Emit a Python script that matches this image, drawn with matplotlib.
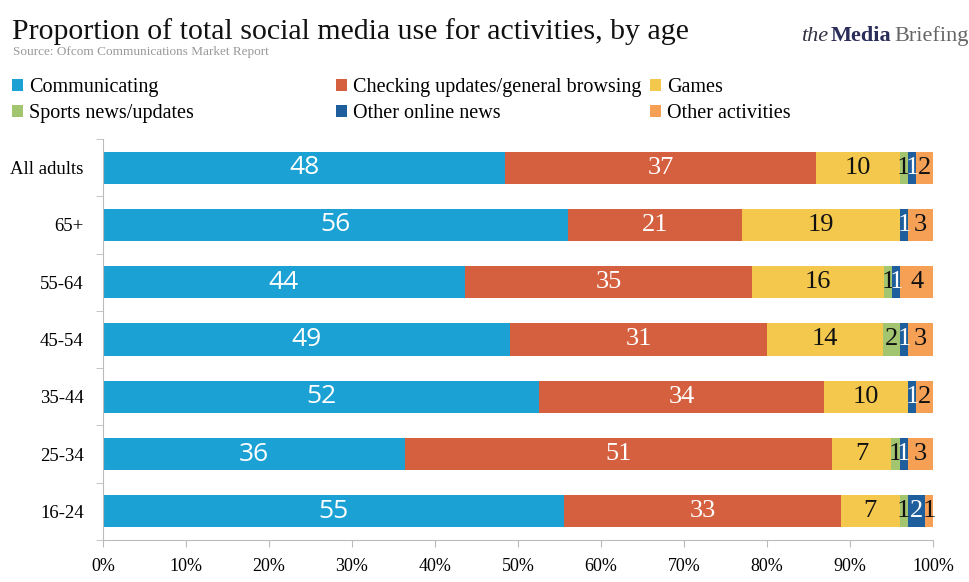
import matplotlib.pyplot as plt
import numpy as np

# data
ages = ['All adults', '65+', '55-64', '45-54', '35-44', '25-34', '16-24']
communicating = [48, 56, 44, 49, 52, 36, 55]
checking = [37, 21, 35, 31, 34, 51, 33]
games = [10, 19, 16, 14, 10, 7, 7]
sports = [1, 0, 1, 2, 0, 1, 1]
other_news = [1, 1, 1, 1, 1, 1, 2]
other_act = [2, 3, 4, 3, 2, 3, 1]

series_names = ['Communicating', 'Checking updates/general browsing', 'Games',
                'Sports news/updates', 'Other online news', 'Other activities']
colors = ['#1ba1d3', '#d5603f', '#f4c84d', '#a3c56f', '#1f5e9c', '#f6a056']
text_colors = ['white', 'white', '#111111', '#111111', 'white', '#111111']

plt.rcParams['font.family'] = ['Liberation Serif', 'DejaVu Serif']

fig = plt.figure(figsize=(9.7, 5.82), dpi=100)
ax = fig.add_axes([0.1062, 0.0722, 0.8557, 0.6890])

values = np.array([communicating, checking, games, sports, other_news, other_act], dtype=float)
# the bars are drawn as shares of each row's total, so every bar ends at 100%
shares = values / values.sum(axis=0) * 100
y = np.arange(len(ages))
left = np.zeros(len(ages))
handles = []
for i, name in enumerate(series_names):
    b = ax.barh(y, shares[i], left=left, height=0.56, color=colors[i], label=name)
    handles.append(b)
    for j in range(len(ages)):
        v = int(values[i, j])
        if v == 0:
            continue
        fam = ['Open Sans'] if i == 0 else ['Liberation Serif']
        ax.text(left[j] + shares[i, j] / 2, y[j], str(v), ha='center', va='center',
                color=text_colors[i], fontsize=19, family=fam)
    left += shares[i]

ax.set_xlim(0, 100)
ax.set_ylim(len(ages) - 0.5, -0.5)
ax.set_yticks(y)
ax.set_yticklabels(ages, fontsize=13.5)
ax.set_yticks(np.arange(len(ages) + 1) - 0.5, minor=True)
ax.tick_params(axis='y', which='major', length=0, pad=14)
ax.tick_params(axis='y', which='minor', length=5, color='#bbbbbb')
ax.set_xticks(np.arange(0, 101, 10))
ax.set_xticklabels(['%d%%' % t for t in range(0, 101, 10)], fontsize=13)
ax.tick_params(axis='x', length=5, color='#bbbbbb', pad=8)
for s in ['top', 'right']:
    ax.spines[s].set_visible(False)
for s in ['left', 'bottom']:
    ax.spines[s].set_color('#bbbbbb')

# title and source
fig.text(0.012, 0.946, 'Proportion of total social media use for activities, by age',
         fontsize=21.5, va='center', ha='left', color='#111111')
fig.text(0.013, 0.911, 'Source: Ofcom Communications Market Report',
         fontsize=9.5, va='center', ha='left', color='#999999')

# legend as three columns
col_x = [0.012, 0.346, 0.670]
for c in range(3):
    hs = [handles[c], handles[c + 3]]
    fig.legend(hs, [series_names[c], series_names[c + 3]], loc='upper left',
               bbox_to_anchor=(col_x[c], 0.866), frameon=False, fontsize=14.5,
               handlelength=0.55, handleheight=0.55, handletextpad=0.3,
               labelspacing=0.35, borderaxespad=0, borderpad=0)

# logo text
fig.text(0.826, 0.938, 'the', fontsize=16, style='italic', color='#333344', va='center')
fig.text(0.856, 0.938, 'Media', fontsize=16, weight='bold', color='#2b2d5a', va='center')
fig.text(0.922, 0.938, 'Briefing', fontsize=16, color='#666666', va='center')

fig.savefig('out.png', dpi=100)
